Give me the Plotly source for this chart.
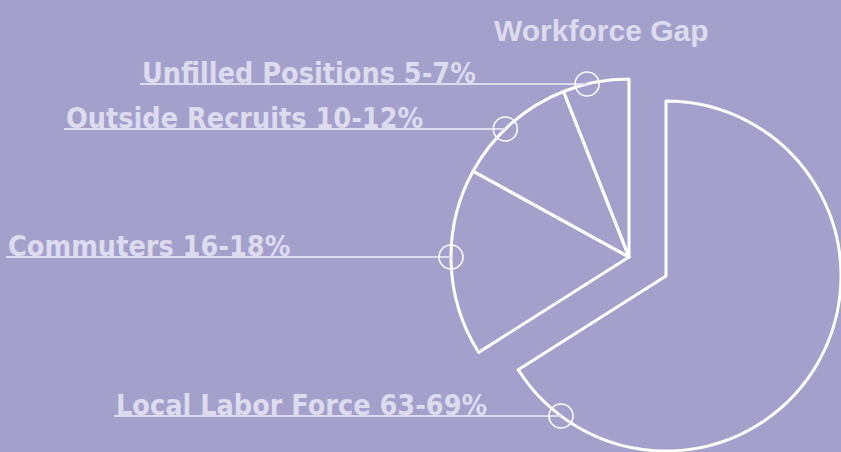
import math
import plotly.graph_objects as go

# ---- data ----
categories = ["Unfilled Positions", "Outside Recruits", "Commuters", "Local Labor Force"]
ranges = ["5-7%", "10-12%", "16-18%", "63-69%"]
values = [6, 11, 17, 66]
title_text = "Workforce Gap"

# ---- layout constants ----
W, H = 841, 452
BG = "#A4A0CC"
TXT = "#DDDBEE"
LINE = "#FFFFFF"

# pie geometry (pixels)
A_cx, A_cy, A_r = 629, 257, 178
B_cx, B_cy, B_r = 666, 276, 175

def dom(cx, cy, r):
    return dict(x=[(cx - r) / W, (cx + r) / W], y=[1 - (cy + r) / H, 1 - (cy - r) / H])

n = len(values)
local_idx = 3

# slices drawn clockwise from 12 o'clock in reverse order, so the first category
# sits just counter-clockwise of 12 o'clock
order = list(range(n))[::-1]

def pie_trace(visible_idx, domain):
    return go.Pie(
        labels=[categories[i] for i in order], values=[values[i] for i in order],
        sort=False, direction="clockwise", rotation=0,
        textinfo="none", hoverinfo="skip", showlegend=False,
        marker=dict(colors=["rgba(0,0,0,0)"] * n,
                    line=dict(color=[LINE if i in visible_idx else "rgba(0,0,0,0)" for i in order],
                              width=[3 if i in visible_idx else 0 for i in order])),
        domain=domain,
    )

fig = go.Figure()
fig.add_trace(pie_trace([i for i in range(n) if i != local_idx], dom(A_cx, A_cy, A_r)))
fig.add_trace(pie_trace([local_idx], dom(B_cx, B_cy, B_r)))

# label layout: (underline y, line start x) in pixels
label_y = [84, 129, 257, 416]
label_x0 = [140, 64, 6, 114]
circle_r = 12

px = lambda v: v / W
py = lambda v: 1 - v / H

shapes = []
annotations = []
for i in range(n):
    y = label_y[i]
    if i == local_idx:
        cx, cy, r = B_cx, B_cy, B_r
    else:
        cx, cy, r = A_cx, A_cy, A_r
    xc = cx - math.sqrt(max(r * r - (y - cy) ** 2, 0))
    shapes.append(dict(type="line", xref="paper", yref="paper",
                       x0=px(label_x0[i]), x1=px(xc), y0=py(y), y1=py(y),
                       line=dict(color=TXT, width=1.8)))
    shapes.append(dict(type="circle", xref="paper", yref="paper",
                       x0=px(xc - circle_r), x1=px(xc + circle_r),
                       y0=py(y + circle_r), y1=py(y - circle_r),
                       line=dict(color=LINE, width=1.5)))
    annotations.append(dict(text=f"{categories[i]} {ranges[i]}", xref="paper", yref="paper",
                            x=px(label_x0[i]), y=py(y), xanchor="left", yanchor="bottom",
                            yshift=-7.5, showarrow=False,
                            font=dict(family="DejaVu Sans Condensed", size=28.5, color=TXT, weight="bold")))

annotations.append(dict(text=title_text, xref="paper", yref="paper", x=601 / W, y=py(40),
                        xanchor="center", yanchor="bottom", yshift=-9, showarrow=False,
                        font=dict(family="Liberation Sans", size=30, color=TXT, weight="bold")))

fig.update_layout(width=W, height=H, margin=dict(l=0, r=0, t=0, b=0),
                  paper_bgcolor=BG, plot_bgcolor=BG, shapes=shapes, annotations=annotations)
fig.write_html("out.html")
